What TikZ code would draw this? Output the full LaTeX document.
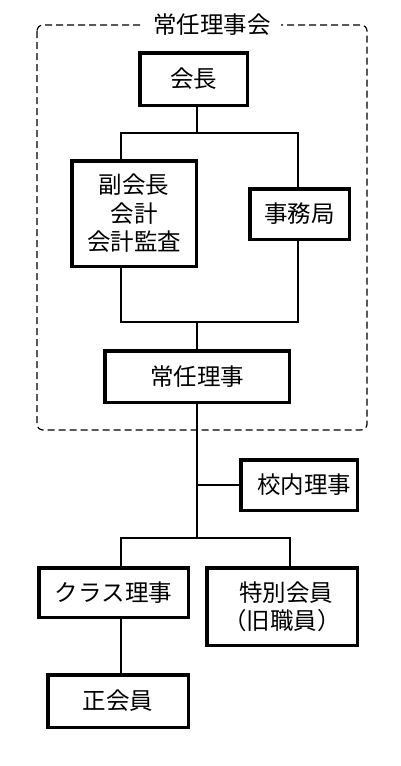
\documentclass[tikz,border=0pt]{standalone}
\usepackage{fontspec}
\usepackage{tikz}
\usetikzlibrary{positioning,calc}
\newfontfamily\jpfont{Noto Sans CJK JP}

\begin{document}
\begin{tikzpicture}[x=1pt, y=-1pt,
  post/.style={draw, line width=3.5pt, align=center, inner sep=0pt,
               font=\jpfont\fontsize{23.5}{28.5}\selectfont},
  link/.style={line width=1.2pt},
  frame/.style={draw, dashed, dash pattern=on 7pt off 4pt, line width=1.2pt,
                rounded corners=6pt}
]
\useasboundingbox (0,0) rectangle (400,766);
\draw[frame] (37,25) rectangle (367,430);
\node[fill=white, inner xsep=10pt, font=\jpfont\fontsize{23.5}{28.5}\selectfont] (title) at (212,25) {常任理事会};

\node[post, minimum width=107.5pt, minimum height=52.5pt] (kaicho) at (193.5,79) {会長};
\node[post, minimum width=124.5pt, minimum height=105.5pt] (fuku) at (134,213.5) {副会長\\会計\\会計監査};
\node[post, minimum width=99.5pt, minimum height=50.5pt] (jimu) at (299.5,214) {事務局};
\node[post, minimum width=184.5pt, minimum height=51.5pt] (jonin) at (197,376.5) {常任理事};
\node[post, minimum width=116.5pt, minimum height=50.5pt] (konai) at (299,485) {\hspace*{10pt}校内理事};
\node[post, minimum width=149.5pt, minimum height=49.5pt] (klass) at (113.5,592.5) {クラス理事};
\node[post, minimum width=150.5pt, minimum height=77.5pt] (toku) at (282,606.5) {\hspace*{8pt}特別会員\\（旧職員）};
\node[post, minimum width=140.5pt, minimum height=52.5pt] (sei) at (118,701) {正会員};

\coordinate (tl) at (121,133);
\coordinate (tc) at (197,133);
\coordinate (tr) at (298,133);
\coordinate (ml) at (121,322);
\coordinate (mc) at (197,322);
\coordinate (mr) at (298,322);
\coordinate (kb) at (197,485);
\coordinate (lc) at (197,538);
\coordinate (ll) at (121,538);
\coordinate (lr) at (290,538);

\draw[link] (tc |- kaicho.south) -- (tc);
\draw[link] (tl |- fuku.north) -- (tl) -- (tr) -- (tr |- jimu.north);
\draw[link] (ml |- fuku.south) -- (ml) -- (mr) -- (mr |- jimu.south);
\draw[link] (mc) -- (mc |- jonin.north);
\draw[link] (mc |- jonin.south) -- (lc);
\draw[link] (kb) -- (konai.west);
\draw[link] (ll |- klass.north) -- (ll) -- (lr) -- (lr |- toku.north);
\draw[link] (ll |- klass.south) -- (ll |- sei.north);
\end{tikzpicture}
\end{document}
